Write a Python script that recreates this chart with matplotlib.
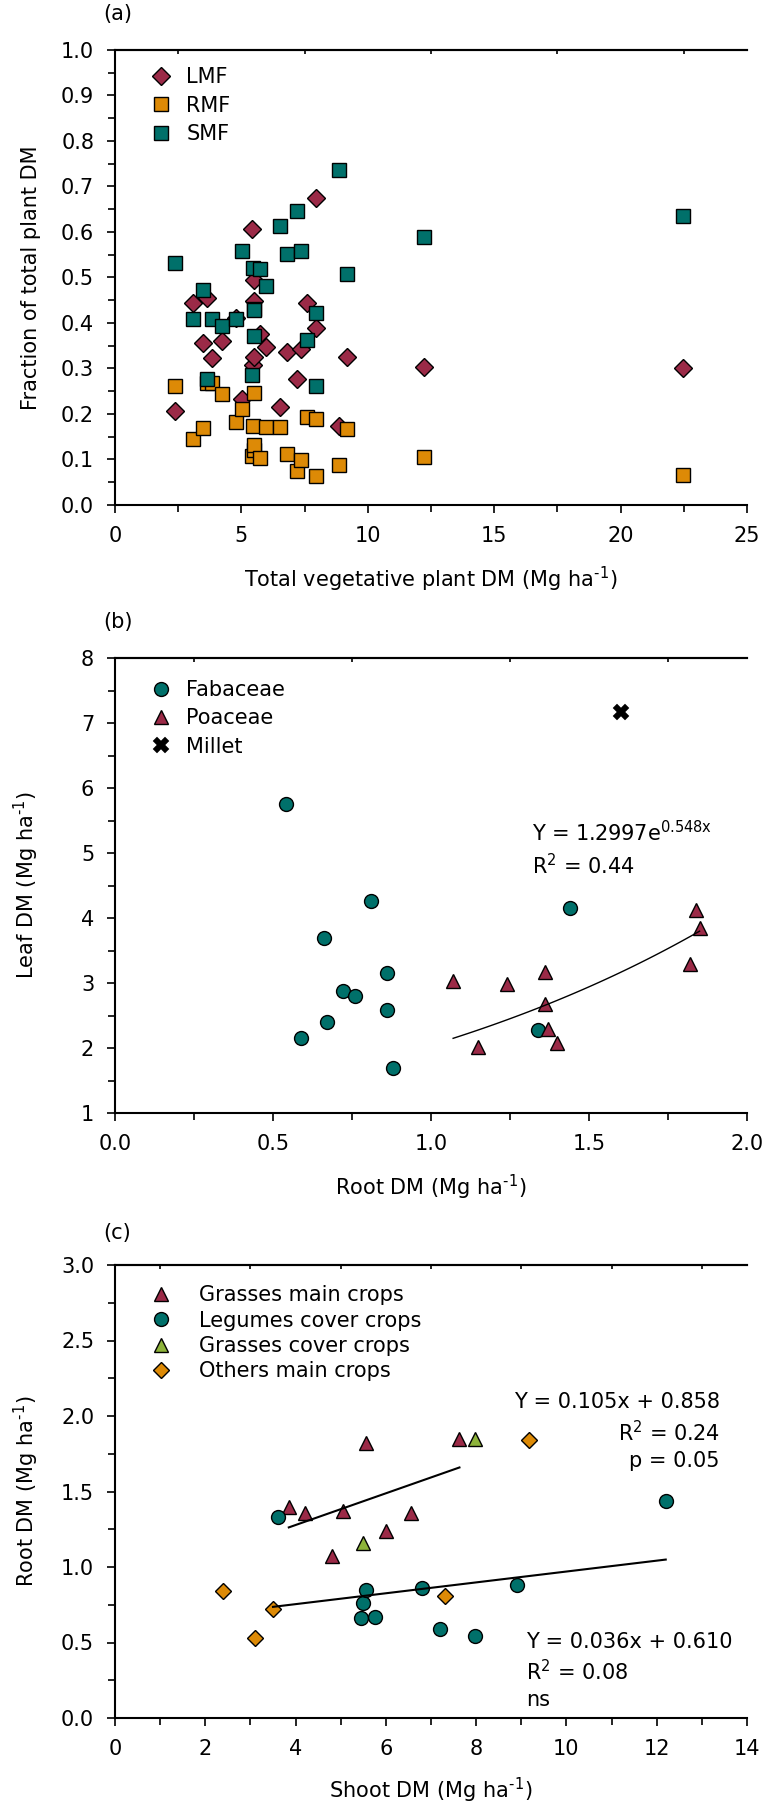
import matplotlib.pyplot as plt
import numpy as np
from matplotlib.ticker import MultipleLocator

plt.rcParams['font.family'] = ['DejaVu Sans']
plt.rcParams['font.size'] = 15
plt.rcParams['mathtext.default'] = 'regular'

# ---- data (a): fractions of total plant DM vs total vegetative DM
veg_dm = [2.37, 3.10, 3.49, 3.65, 3.85, 4.22, 4.77, 5.03, 5.40, 5.47, 5.49, 5.51, 5.51,
          5.73, 5.97, 6.52, 6.80, 7.20, 7.35, 7.60, 7.94, 7.97, 8.87, 9.16, 12.21, 22.45]
lmf = [0.207, 0.445, 0.357, 0.454, 0.322, 0.361, 0.410, 0.232, 0.606, 0.308, 0.448, 0.494, 0.325,
       0.376, 0.348, 0.216, 0.337, 0.278, 0.342, 0.443, 0.388, 0.674, 0.174, 0.325, 0.303, 0.300]
rmf = [0.262, 0.145, 0.170, 0.268, 0.269, 0.243, 0.182, 0.212, 0.108, 0.174, 0.121, 0.132, 0.247,
       0.104, 0.171, 0.172, 0.112, 0.075, 0.099, 0.193, 0.188, 0.064, 0.089, 0.168, 0.105, 0.067]
smf = [0.531, 0.409, 0.473, 0.278, 0.409, 0.393, 0.408, 0.558, 0.286, 0.520, 0.430, 0.372, 0.428,
       0.519, 0.481, 0.613, 0.551, 0.647, 0.558, 0.363, 0.421, 0.262, 0.737, 0.508, 0.590, 0.635]

# ---- data (b): leaf DM vs root DM
fab_root = [0.54, 0.59, 0.66, 0.67, 0.72, 0.76, 0.81, 0.86, 0.86, 0.88, 1.34, 1.44]
fab_leaf = [5.75, 2.15, 3.70, 2.40, 2.88, 2.80, 4.26, 3.15, 2.58, 1.69, 2.27, 4.15]
poa_root = [1.07, 1.15, 1.24, 1.36, 1.36, 1.37, 1.40, 1.82, 1.84, 1.85]
poa_leaf = [3.03, 2.02, 2.98, 3.17, 2.67, 2.30, 2.08, 3.29, 4.12, 3.85]
millet_root = [1.60]
millet_leaf = [7.17]
# exponential curve as drawn in the figure
exp_a, exp_b = 0.984, 0.730
exp_range = (1.07, 1.85)

# ---- data (c): root DM vs shoot DM
gm_shoot = [3.85, 4.20, 4.80, 5.05, 5.55, 6.00, 6.55, 7.63]
gm_root = [1.40, 1.36, 1.07, 1.37, 1.82, 1.24, 1.36, 1.85]
leg_shoot = [3.60, 5.45, 5.50, 5.55, 5.75, 6.80, 7.20, 7.98, 8.90, 12.20]
leg_root = [1.33, 0.66, 0.76, 0.85, 0.67, 0.86, 0.59, 0.54, 0.88, 1.44]
gc_shoot = [5.50, 7.98]
gc_root = [1.16, 1.85]
oth_shoot = [2.40, 3.10, 3.50, 7.30, 9.18]
oth_root = [0.84, 0.53, 0.72, 0.81, 1.84]
fit_up = (0.105, 0.858, 3.85, 7.63)
fit_low = (0.036, 0.610, 3.50, 12.20)

RED = '#9b2a47'
ORANGE = '#dd8a06'
TEAL = '#00706a'
GREEN = '#8db33a'

UNIT = r'(Mg ha$^{\text{-1}}$)'

fig = plt.figure(figsize=(7.69, 18.07), dpi=100)
W, H = 769, 1807
L, R = 115, 747


def make_ax(top, bottom):
    ax = fig.add_axes([L / W, 1 - bottom / H, (R - L) / W, (bottom - top) / H])
    ax.spines['right'].set_visible(False)
    for s in ['left', 'bottom', 'top']:
        ax.spines[s].set_linewidth(1.5)
    ax.tick_params(which='both', direction='out', width=1.2, pad=9)
    ax.tick_params(which='major', length=6)
    ax.tick_params(which='minor', length=5)
    return ax


def top_minor(ax, lo, hi, step):
    # the top spine only carries the in-between ticks
    sec = ax.secondary_xaxis('top')
    pos = np.arange(lo + step / 2, hi, step)
    sec.set_xticks(pos, labels=[])
    sec.tick_params(direction='in', length=3, width=1.2)
    sec.spines['top'].set_linewidth(1.5)


mk = dict(markeredgecolor='black', markeredgewidth=1.0, linestyle='none')
leg_kw = dict(loc='upper left', frameon=False, borderpad=0, borderaxespad=0,
              handlelength=1.0, fontsize=15)

# ---------------- (a)
ax = make_ax(50, 505)
ax.plot(veg_dm, lmf, 'D', color=RED, markersize=9, label='LMF', **mk)
ax.plot(veg_dm, rmf, 's', color=ORANGE, markersize=10, label='RMF', **mk)
ax.plot(veg_dm, smf, 's', color=TEAL, markersize=10, label='SMF', **mk)
ax.set_xlim(0, 25)
ax.set_ylim(0, 1)
ax.xaxis.set_major_locator(MultipleLocator(5))
ax.xaxis.set_minor_locator(MultipleLocator(2.5))
ax.yaxis.set_major_locator(MultipleLocator(0.1))
ax.yaxis.set_minor_locator(MultipleLocator(0.05))
ax.yaxis.set_major_formatter('{x:.1f}')
top_minor(ax, 0, 25, 5)
ax.set_xlabel('Total vegetative plant DM ' + UNIT, labelpad=14)
ax.set_ylabel('Fraction of total plant DM')
ax.yaxis.set_label_coords(-0.117, 0.5)
ax.legend(bbox_to_anchor=(0.057, 0.962), handletextpad=0.7, labelspacing=0.4, **leg_kw)
fig.text(103 / W, 1 - 14 / H, '(a)', ha='left', va='center')

# ---------------- (b)
ax = make_ax(658, 1113)
ax.plot(fab_root, fab_leaf, 'o', color=TEAL, markersize=10, label='Fabaceae', **mk)
ax.plot(poa_root, poa_leaf, '^', color=RED, markersize=10, label='Poaceae', **mk)
ax.plot(millet_root, millet_leaf, 'X', color='black', markersize=11, markeredgecolor='black',
        markeredgewidth=0.3, linestyle='none', label='Millet')
xx = np.linspace(exp_range[0], exp_range[1], 50)
ax.plot(xx, exp_a * np.exp(exp_b * xx), color='black', lw=1)
ax.set_xlim(0, 2)
ax.set_ylim(1, 8)
ax.xaxis.set_major_locator(MultipleLocator(0.5))
ax.xaxis.set_minor_locator(MultipleLocator(0.25))
ax.xaxis.set_major_formatter('{x:.1f}')
ax.yaxis.set_major_locator(MultipleLocator(1))
ax.yaxis.set_minor_locator(MultipleLocator(0.5))
top_minor(ax, 0, 2, 0.5)
ax.set_xlabel('Root DM ' + UNIT, labelpad=14)
ax.set_ylabel('Leaf DM ' + UNIT)
ax.yaxis.set_label_coords(-0.117, 0.5)
ax.text(1.32, 5.31, 'Y = 1.2997e$^{0.548x}$', ha='left', va='center')
ax.text(1.32, 4.80, 'R$^{2}$ = 0.44', ha='left', va='center')
ax.legend(bbox_to_anchor=(0.057, 0.952), handletextpad=0.7, labelspacing=0.4, **leg_kw)
fig.text(103 / W, 1 - 622 / H, '(b)', ha='left', va='center')

# ---------------- (c)
ax = make_ax(1265, 1718)
ax.plot(gm_shoot, gm_root, '^', color=RED, markersize=10, label='Grasses main crops', **mk)
ax.plot(leg_shoot, leg_root, 'o', color=TEAL, markersize=10, label='Legumes cover crops', **mk)
ax.plot(gc_shoot, gc_root, '^', color=GREEN, markersize=10, label='Grasses cover crops', **mk)
ax.plot(oth_shoot, oth_root, 'D', color=ORANGE, markersize=8, label='Others main crops', **mk)
for m, b, x0, x1 in [fit_up, fit_low]:
    xs = np.array([x0, x1])
    ax.plot(xs, m * xs + b, color='black', lw=1.5)
ax.set_xlim(0, 14)
ax.set_ylim(0, 3)
ax.xaxis.set_major_locator(MultipleLocator(2))
ax.xaxis.set_minor_locator(MultipleLocator(1))
ax.yaxis.set_major_locator(MultipleLocator(0.5))
ax.yaxis.set_minor_locator(MultipleLocator(0.25))
ax.yaxis.set_major_formatter('{x:.1f}')
top_minor(ax, 0, 14, 2)
ax.set_xlabel('Shoot DM ' + UNIT, labelpad=12)
ax.set_ylabel('Root DM ' + UNIT)
ax.yaxis.set_label_coords(-0.117, 0.5)
ax.text(13.4, 2.09, 'Y = 0.105x + 0.858', ha='right', va='center')
ax.text(13.4, 1.89, 'R$^{2}$ = 0.24', ha='right', va='center')
ax.text(13.4, 1.70, 'p = 0.05', ha='right', va='center')
ax.text(9.1, 0.50, 'Y = 0.036x + 0.610', ha='left', va='center')
ax.text(9.1, 0.31, 'R$^{2}$ = 0.08', ha='left', va='center')
ax.text(9.1, 0.12, 'ns', ha='left', va='center')
ax.legend(bbox_to_anchor=(0.057, 0.955), handletextpad=1.3, labelspacing=0.25, **leg_kw)
fig.text(103 / W, 1 - 1233 / H, '(c)', ha='left', va='center')

fig.savefig('out.png', dpi=100)
